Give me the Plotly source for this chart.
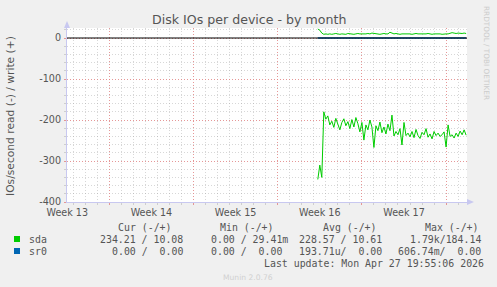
import plotly.graph_objects as go
import pandas as pd

# ---------------- data ----------------
title = "Disk IOs per device - by month"
week_labels = ["Week 13", "Week 14", "Week 15", "Week 16", "Week 17"]
week_label_pos = ["2026-03-25 12:00", "2026-04-01 12:00", "2026-04-08 12:00",
                  "2026-04-15 12:00", "2026-04-22 12:00"]
week_grid_pos = ["2026-03-29", "2026-04-05", "2026-04-12", "2026-04-19", "2026-04-26"]
x_range = ["2026-03-25 11:30", "2026-04-27 17:45"]
y_ticks = [0, -100, -200, -300, -400]
y_range = [-400, 24.4]

sample_start = "2026-04-15 08:00"
sample_step = "4h"

# sda read IOs/s (plotted negative)
sda_read = [345, 310, 340, 180, 198, 190, 212, 203, 218, 196, 210, 224, 206, 197, 214,
            204, 221, 199, 217, 194, 209, 229, 206, 249, 212, 224, 200, 217, 267, 214,
            226, 205, 231, 217, 234, 210, 226, 188, 239, 228, 236, 221, 261, 206, 238,
            232, 241, 228, 243, 223, 238, 245, 230, 236, 221, 242, 234, 246, 228, 238,
            232, 240, 236, 229, 266, 212, 240, 236, 244, 232, 240, 227, 236, 224, 237]
# sda write IOs/s
sda_write = [22, 19, 12, 9, 10, 9, 10, 9, 10, 11, 10, 9, 10, 10, 9,
             11, 10, 10, 9, 10, 11, 10, 10, 9, 10, 11, 10, 12, 11, 10,
             10, 9, 10, 11, 10, 10, 14, 11, 10, 11, 10, 9, 10, 10, 11,
             10, 10, 9, 10, 11, 10, 10, 9, 10, 10, 11, 10, 9, 10, 10,
             11, 10, 9, 10, 10, 10, 12, 13, 12, 11, 12, 11, 11, 12, 11]
sr0_read = [0.0] * 75
sr0_write = [0.0] * 75

devices = ["sda", "sr0"]
colors = ["#00CC00", "#0066B3"]
legend_header = ["Cur (-/+)", "Min (-/+)", "Avg (-/+)", "Max (-/+)"]
legend_rows = [
    ["234.21 / 10.08", "0.00 / 29.41m", "228.57 / 10.61", "1.79k/184.14"],
    ["0.00 /  0.00", "0.00 /  0.00", "193.71u/  0.00", "606.74m/  0.00"],
]
last_update = "Last update: Mon Apr 27 19:55:06 2026"
munin_version = "Munin 2.0.76"
watermark = "RRDTOOL / TOBI OETIKER"

# ---------------- layout helpers ----------------
W, H = 497, 287
L, R, T, B = 67, 30, 28, 85
PW, PH = W - L - R, H - T - B


def px(x):
    return (x - L) / PW


def py(y):
    return (H - B - y) / PH


times = pd.date_range(sample_start, periods=len(sda_read), freq=sample_step)

fig = go.Figure()
fig.add_trace(go.Scatter(x=times, y=[-v for v in sr0_read], mode="lines",
                         line=dict(color=colors[1], width=1), showlegend=False, hoverinfo="skip"))
fig.add_trace(go.Scatter(x=times, y=sr0_write, mode="lines",
                         line=dict(color=colors[1], width=1), showlegend=False, hoverinfo="skip"))
fig.add_trace(go.Scatter(x=times, y=[-v for v in sda_read], mode="lines",
                         line=dict(color=colors[0], width=1), showlegend=False, hoverinfo="skip"))
fig.add_trace(go.Scatter(x=times, y=sda_write, mode="lines",
                         line=dict(color=colors[0], width=1), showlegend=False, hoverinfo="skip"))
# dummy trace to activate label axis
fig.add_trace(go.Scatter(x=[week_label_pos[0]], y=[None], xaxis="x2", mode="lines",
                         showlegend=False, hoverinfo="skip"))

minor_grid = "rgba(160,160,160,0.42)"
major_grid = "rgba(235,130,130,0.75)"
axis_col = "#C8C8F0"
txt = "#555555"

fig.update_layout(
    width=W, height=H,
    margin=dict(l=L, r=R, t=T, b=B),
    paper_bgcolor="#F0F0F0",
    plot_bgcolor="#FFFFFF",
    font=dict(family="DejaVu Sans", size=9.6, color=txt),
    showlegend=False,
    xaxis=dict(
        type="date", range=x_range,
        tickmode="array", tickvals=week_grid_pos, ticktext=[""] * len(week_grid_pos),
        showgrid=True, gridcolor=major_grid, griddash="1px,2px", gridwidth=1,
        ticks="outside", ticklen=2, tickcolor=major_grid,
        showline=True, linecolor=axis_col, linewidth=1,
        zeroline=False,
        minor=dict(tickmode="linear", tick0="2026-03-22", dtick=86400000,
                   showgrid=True, gridcolor=minor_grid, griddash="1px,2px",
                   ticks="outside", ticklen=2, tickcolor=minor_grid),
    ),
    xaxis2=dict(
        type="date", range=x_range, overlaying="x", anchor="y", side="bottom",
        tickmode="array", tickvals=week_label_pos, ticktext=week_labels,
        showgrid=False, ticks="", showline=False, zeroline=False,
        tickfont=dict(size=9.6, color=txt), ticklabelstandoff=3,
    ),
    yaxis=dict(
        range=y_range, tickmode="array", tickvals=y_ticks,
        ticktext=[str(v) for v in y_ticks],
        showgrid=True, gridcolor=major_grid, griddash="1px,2px", gridwidth=1,
        ticks="outside", ticklen=2, tickcolor=major_grid,
        showline=True, linecolor=axis_col, linewidth=1,
        zeroline=False,
        tickfont=dict(size=9.6, color=txt), ticklabelstandoff=1,
        minor=dict(tickmode="linear", tick0=0, dtick=20,
                   showgrid=True, gridcolor=minor_grid, griddash="1px,2px",
                   ticks="outside", ticklen=2, tickcolor=minor_grid),
    ),
)

shapes = []
# zero rule
shapes.append(dict(type="line", xref="paper", yref="y", x0=0, x1=1, y0=0, y1=0,
                   line=dict(color="#000000", width=1), layer="above"))
# axis arrows
shapes.append(dict(type="path", xref="paper", yref="paper",
                   path=f"M {px(64)} {py(28)} L {px(70)} {py(28)} L {px(67)} {py(21)} Z",
                   fillcolor=axis_col, line=dict(width=0)))
shapes.append(dict(type="path", xref="paper", yref="paper",
                   path=f"M {px(467)} {py(199)} L {px(467)} {py(205)} L {px(474)} {py(202)} Z",
                   fillcolor=axis_col, line=dict(width=0)))
# legend color boxes
for i, c in enumerate(colors):
    yc = 239 + 12 * i
    shapes.append(dict(type="rect", xref="paper", yref="paper",
                       x0=px(14), x1=px(20), y0=py(yc + 3), y1=py(yc - 3),
                       fillcolor=c, line=dict(width=0)))
fig.update_layout(shapes=shapes)

ann = []
ann.append(dict(text=title, xref="paper", yref="paper", x=px(249), y=py(19),
                xanchor="center", yanchor="middle", showarrow=False,
                font=dict(family="DejaVu Sans", size=12.6, color=txt)))
ann.append(dict(text="IOs/second read (-) / write (+)", xref="paper", yref="paper",
                x=px(10), y=py(116), xanchor="center", yanchor="middle", textangle=-90,
                showarrow=False, font=dict(family="DejaVu Sans", size=10.7, color=txt)))
ann.append(dict(text=watermark, xref="paper", yref="paper", x=px(487), y=py(53),
                xanchor="center", yanchor="middle", textangle=90, showarrow=False,
                font=dict(family="DejaVu Sans", size=7.3, color="#CCCCCC")))

mono = dict(family="DejaVu Sans Mono", size=9.9, color=txt)
header_x = [116, 218, 321, 423]
for h, xh in zip(legend_header, header_x):
    ann.append(dict(text=h, xref="paper", yref="paper", x=px(xh), y=py(227),
                    xanchor="left", yanchor="middle", showarrow=False, font=mono))
row_x = [[98, 209, 297, 408], [110, 209, 297, 396]]
for i, (name, row) in enumerate(zip(devices, legend_rows)):
    yc = 239 + 12 * i
    ann.append(dict(text=name, xref="paper", yref="paper", x=px(27), y=py(yc),
                    xanchor="left", yanchor="middle", showarrow=False, font=mono))
    for cell, xc in zip(row, row_x[i]):
        ann.append(dict(text=cell.replace(" ", "&nbsp;"), xref="paper", yref="paper", x=px(xc), y=py(yc),
                        xanchor="left", yanchor="middle", showarrow=False, font=mono))
ann.append(dict(text=last_update, xref="paper", yref="paper", x=px(262), y=py(263),
                xanchor="left", yanchor="middle", showarrow=False, font=mono))
ann.append(dict(text=munin_version, xref="paper", yref="paper", x=px(248), y=py(277),
                xanchor="center", yanchor="middle", showarrow=False,
                font=dict(family="DejaVu Sans", size=7.6, color="#D0D0D0")))
fig.update_layout(annotations=ann)

fig.write_html("out.html")
